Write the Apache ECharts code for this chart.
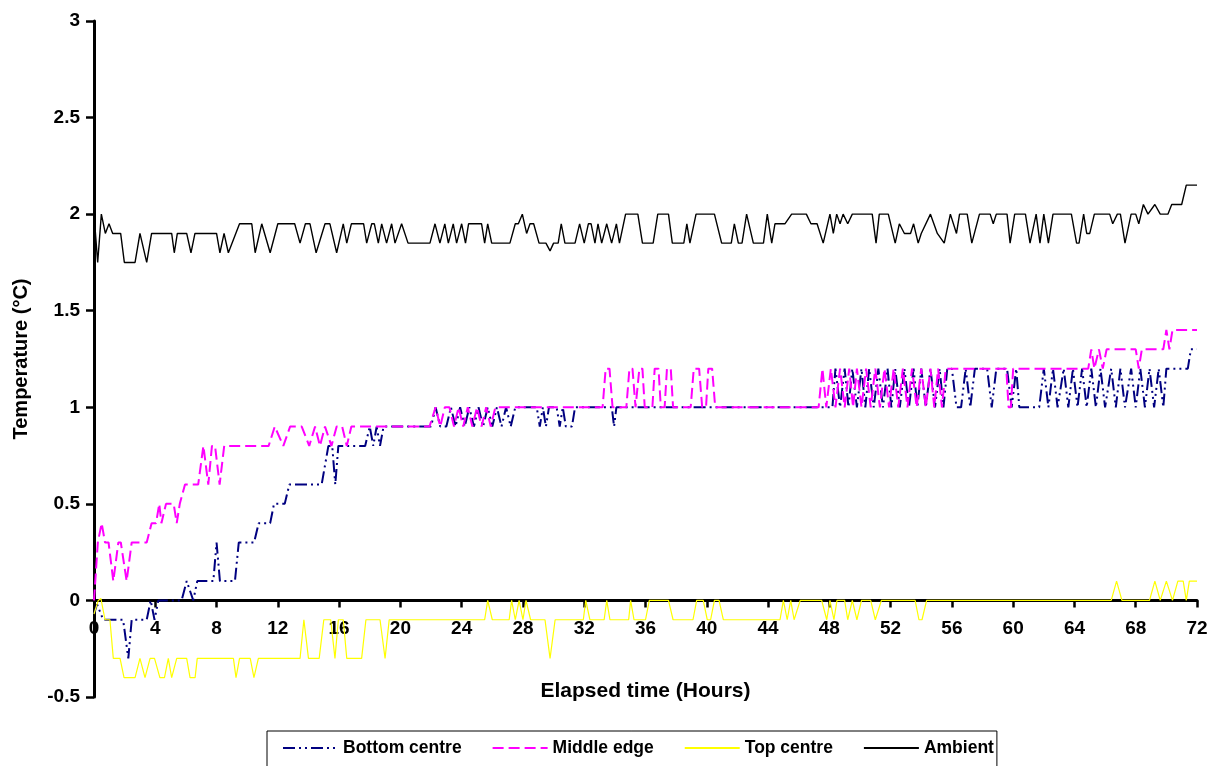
<!DOCTYPE html>
<html>
<head>
<meta charset="utf-8">
<script src="https://cdn.jsdelivr.net/npm/echarts@6/dist/echarts.min.js"></script>
<style>
html,body{margin:0;padding:0;background:#fff;}
#chart{width:1218px;height:766px;}
</style>
</head>
<body>
<div id="chart"></div>
<script>
// ---- tick labels ----
var xTicks = [0,4,8,12,16,20,24,28,32,36,40,44,48,52,56,60,64,68,72];
var yTicks = [-0.5,0,0.5,1,1.5,2,2.5,3];
var seriesNames = ['Bottom centre','Middle edge','Top centre','Ambient'];

// ---- series values: [elapsed hours, temperature] ----
var bottomCentre = [
[0,-0.07],[0.2,-0.02],[0.6,-0.1],[1.9,-0.1],[2.24,-0.3],[2.46,-0.1],[3.44,-0.1],[3.7,0],[3.95,-0.1],[4.2,0],
[5.72,0],[6.05,0.1],[6.48,0],[6.74,0.1],[7.79,0.1],[8.0,0.3],[8.22,0.1],[9.2,0.1],[9.45,0.3],[10.45,0.3],
[10.75,0.4],[11.5,0.4],[11.75,0.5],[12.45,0.5],[12.75,0.6],[14.86,0.6],[15.3,0.8],[15.55,0.8],[15.75,0.6],[15.95,0.8],
[17.7,0.8],[18.0,0.9],[18.23,0.8],[18.45,0.9],[18.67,0.8],[18.9,0.9],[22.0,0.9],[22.3,1.0],[22.6,0.9],[23.0,0.9],
[23.3,1.0],[23.6,0.9],[23.9,1.0],[24.2,0.9],[24.5,1.0],[24.8,0.9],[25.1,1.0],[25.4,0.9],[25.7,1.0],[26.0,0.9],
[26.3,1.0],[26.6,0.9],[26.9,1.0],[27.2,0.9],[27.5,1.0],[28.9,1.0],[29.1,0.9],[29.3,1.0],[29.5,0.9],[29.7,1.0],
[30.2,1.0],[30.4,0.9],[30.6,1.0],[30.8,0.9],[31.2,0.9],[31.4,1.0],[33.8,1.0],[33.95,0.9],[34.1,1.0],[48.2,1.0],
[48.4,1.2],[48.7,1.0],[49.0,1.2],[49.25,1.0],[49.5,1.2],[49.8,1.0],[50.1,1.2],[50.35,1.0],[50.6,1.2],[50.9,1.0],
[51.2,1.2],[51.5,1.0],[51.8,1.2],[52.05,1.0],[52.3,1.2],[52.6,1.0],[52.9,1.2],[53.2,1.0],[53.5,1.2],[53.75,1.0],
[54.0,1.2],[54.3,1.0],[54.6,1.2],[54.9,1.0],[55.2,1.2],[55.45,1.0],[55.7,1.2],[56.0,1.2],[56.3,1.0],[56.6,1.0],
[56.9,1.2],[57.2,1.0],[57.5,1.2],[58.3,1.2],[58.6,1.0],[58.9,1.2],[59.6,1.2],[59.9,1.0],[60.2,1.2],[60.4,1.0],
[61.7,1.0],[62.0,1.2],[62.3,1.0],[62.6,1.2],[62.9,1.0],[63.3,1.2],[63.6,1.0],[63.9,1.2],[64.2,1.0],[64.5,1.2],
[64.8,1.0],[65.1,1.2],[65.4,1.0],[65.7,1.2],[66.0,1.0],[66.4,1.2],[66.7,1.0],[67.0,1.2],[67.3,1.0],[67.7,1.2],
[68.0,1.0],[68.3,1.2],[68.6,1.0],[68.9,1.2],[69.2,1.0],[69.5,1.2],[69.8,1.0],[70.0,1.2],[71.4,1.2],[71.6,1.3],[72,1.3]
];

var middleEdge = [
[0,0],[0.25,0.3],[0.5,0.4],[0.72,0.3],[0.95,0.3],[1.26,0.1],[1.59,0.3],[1.75,0.3],[2.13,0.1],[2.46,0.3],
[3.44,0.3],[3.76,0.4],[4.05,0.4],[4.26,0.5],[4.4,0.4],[4.7,0.5],[5.2,0.5],[5.4,0.4],[5.6,0.5],[5.94,0.6],
[6.8,0.6],[7.14,0.8],[7.46,0.6],[7.7,0.8],[7.9,0.8],[8.2,0.6],[8.5,0.8],[11.4,0.8],[11.8,0.9],[12.36,0.8],
[12.8,0.9],[13.56,0.9],[14.05,0.8],[14.43,0.9],[14.75,0.8],[15.08,0.9],[15.5,0.8],[15.84,0.9],[16.2,0.9],[16.5,0.8],
[16.8,0.9],[21.9,0.9],[22.3,1.0],[22.6,0.9],[22.9,1.0],[23.2,1.0],[23.5,0.9],[23.8,1.0],[24.1,0.9],[24.4,1.0],
[24.7,0.9],[25.0,1.0],[25.3,0.9],[25.6,1.0],[25.9,0.9],[26.2,1.0],[33.2,1.0],[33.4,1.2],[33.65,1.2],[33.85,1.0],
[34.75,1.0],[34.95,1.2],[35.15,1.2],[35.35,1.0],[35.45,1.0],[35.6,1.2],[35.8,1.2],[35.95,1.0],[36.45,1.0],[36.6,1.2],
[36.85,1.2],[37.0,1.0],[37.25,1.0],[37.4,1.2],[37.65,1.2],[37.8,1.0],[38.95,1.0],[39.15,1.2],[39.5,1.2],[39.7,1.0],
[39.95,1.0],[40.1,1.2],[40.35,1.2],[40.55,1.0],[47.3,1.0],[47.55,1.2],[47.8,1.0],[48.1,1.2],[48.4,1.0],[48.7,1.2],
[49.0,1.0],[49.3,1.2],[49.55,1.0],[49.8,1.2],[50.1,1.0],[50.4,1.2],[50.7,1.0],[51.0,1.2],[51.3,1.0],[51.6,1.2],
[51.9,1.0],[52.2,1.2],[52.5,1.0],[52.8,1.2],[53.1,1.0],[53.4,1.2],[53.7,1.0],[54.0,1.2],[54.3,1.0],[54.6,1.2],
[54.85,1.0],[55.1,1.2],[55.35,1.0],[55.6,1.2],[59.55,1.2],[59.7,1.0],[59.85,1.0],[60.0,1.2],[64.9,1.2],[65.1,1.3],
[65.3,1.2],[65.6,1.3],[65.85,1.2],[66.1,1.3],[68.0,1.3],[68.2,1.2],[68.4,1.3],[69.8,1.3],[70.0,1.4],[70.2,1.3],
[70.4,1.4],[72,1.4]
];

var topCentre = [
[0,-0.07],[0.28,0],[0.45,0.01],[0.72,-0.1],[1.04,-0.1],[1.26,-0.3],[1.7,-0.3],[1.96,-0.4],[2.68,-0.4],[3.0,-0.3],
[3.33,-0.4],[3.66,-0.3],[3.95,-0.3],[4.3,-0.4],[4.6,-0.4],[4.85,-0.3],[5.07,-0.4],[5.4,-0.3],[6.05,-0.3],[6.27,-0.4],
[6.6,-0.4],[6.74,-0.3],[9.1,-0.3],[9.27,-0.4],[9.5,-0.3],[10.2,-0.3],[10.44,-0.4],[10.73,-0.3],[13.45,-0.3],[13.7,-0.1],
[14.0,-0.3],[14.7,-0.3],[15.0,-0.1],[15.45,-0.1],[15.73,-0.3],[15.95,-0.1],[16.27,-0.1],[16.5,-0.3],[17.47,-0.3],[17.75,-0.1],
[18.67,-0.1],[19.0,-0.3],[19.27,-0.1],[25.5,-0.1],[25.7,0],[26.0,-0.1],[27.1,-0.1],[27.26,0],[27.5,-0.1],[27.75,0],
[28.0,-0.1],[28.2,0],[28.5,-0.1],[29.44,-0.1],[29.77,-0.3],[30.1,-0.1],[31.94,-0.1],[32.1,0],[32.37,-0.1],[33.3,-0.1],
[33.47,0],[33.68,-0.1],[34.9,-0.1],[35.03,0],[35.25,-0.1],[36.0,-0.1],[36.25,0],[37.5,0],[37.8,-0.1],[39.1,-0.1],
[39.34,0],[39.77,0],[40.03,-0.1],[40.25,-0.1],[40.5,0],[40.8,0],[41.08,-0.1],[44.78,-0.1],[45.0,0],[45.25,-0.1],
[45.48,0],[45.7,-0.1],[46.1,0],[47.5,0],[47.83,-0.1],[48.04,0],[48.3,-0.1],[48.5,0],[49.0,0],[49.2,-0.1],
[49.5,0],[49.8,-0.1],[50.1,0],[50.7,0],[51.0,-0.1],[51.4,0],[53.6,0],[53.85,-0.1],[54.05,-0.1],[54.35,0],
[66.4,0],[66.75,0.1],[67.1,0],[68.9,0],[69.25,0.1],[69.6,0],[70.0,0.1],[70.4,0],[70.75,0.1],[71.1,0.1],
[71.3,0],[71.5,0.1],[72,0.1]
];

var ambient = [
[0,2.0],[0.24,1.75],[0.48,2.0],[0.74,1.9],[0.98,1.95],[1.22,1.9],[1.74,1.9],[1.98,1.75],[2.68,1.75],[3.0,1.9],
[3.44,1.75],[3.76,1.9],[5.07,1.9],[5.24,1.8],[5.44,1.9],[6.05,1.9],[6.33,1.8],[6.59,1.9],[8.0,1.9],[8.22,1.8],
[8.49,1.9],[8.77,1.8],[9.5,1.95],[10.3,1.95],[10.52,1.8],[10.95,1.95],[11.5,1.8],[12.0,1.95],[13.1,1.95],[13.45,1.85],
[13.8,1.95],[14.1,1.95],[14.5,1.8],[15.08,1.95],[15.4,1.95],[15.84,1.8],[16.27,1.95],[16.5,1.85],[16.8,1.95],[17.6,1.95],
[17.8,1.85],[18.13,1.95],[18.3,1.95],[18.56,1.85],[18.78,1.95],[19.1,1.85],[19.43,1.95],[19.65,1.85],[20.08,1.95],[20.5,1.85],
[21.93,1.85],[22.26,1.95],[22.58,1.85],[22.9,1.95],[23.13,1.85],[23.45,1.95],[23.67,1.85],[24.0,1.95],[24.25,1.85],[24.45,1.95],
[25.3,1.95],[25.5,1.85],[25.7,1.95],[25.96,1.85],[27.15,1.85],[27.5,1.95],[27.7,1.95],[27.96,2.0],[28.24,1.9],[28.46,1.95],
[28.7,1.95],[29.05,1.85],[29.5,1.85],[29.77,1.81],[30.0,1.85],[30.3,1.85],[30.5,1.95],[30.74,1.85],[31.4,1.85],[31.7,1.95],
[32.0,1.85],[32.27,1.95],[32.45,1.95],[32.7,1.85],[32.9,1.95],[33.14,1.85],[33.47,1.95],[33.79,1.85],[34.1,1.95],[34.3,1.85],
[34.7,2.0],[35.5,2.0],[35.8,1.85],[36.5,1.85],[36.8,2.0],[37.5,2.0],[37.75,1.85],[38.5,1.85],[38.7,1.95],[38.9,1.85],
[39.3,2.0],[40.5,2.0],[40.97,1.85],[41.6,1.85],[41.8,1.95],[42.06,1.85],[42.3,1.85],[42.6,2.0],[43.04,1.85],[43.7,1.85],
[43.95,2.0],[44.24,1.85],[44.45,1.95],[45.1,1.95],[45.54,2.0],[46.5,2.0],[46.8,1.95],[47.2,1.95],[47.6,1.85],[48.04,2.0],
[48.26,1.9],[48.48,2.0],[48.7,1.95],[48.9,2.0],[49.2,1.95],[49.5,2.0],[50.8,2.0],[51.05,1.85],[51.26,2.0],[51.85,2.0],
[52.3,1.85],[52.57,1.95],[52.9,1.9],[53.3,1.9],[53.5,1.95],[53.8,1.85],[54.0,1.9],[54.6,2.0],[55.05,1.9],[55.5,1.85],
[55.9,2.0],[56.3,1.9],[56.5,2.0],[57.0,2.0],[57.3,1.85],[57.8,2.0],[58.5,2.0],[58.7,1.95],[58.9,2.0],[59.6,2.0],
[59.8,1.85],[60.1,2.0],[60.8,2.0],[61.1,1.85],[61.5,2.0],[61.75,1.85],[62.0,2.0],[62.3,1.85],[62.6,2.0],[63.8,2.0],
[64.14,1.85],[64.3,1.85],[64.6,2.0],[64.8,1.9],[65.0,1.9],[65.3,2.0],[66.3,2.0],[66.5,1.95],[66.8,2.0],[67.0,2.0],
[67.3,1.85],[67.7,2.0],[68.0,2.0],[68.2,1.95],[68.5,2.05],[68.8,2.0],[69.25,2.05],[69.6,2.0],[70.1,2.0],[70.35,2.05],
[71.0,2.05],[71.3,2.15],[72,2.15]
];

var FONT = '"Liberation Sans", Arial, sans-serif';
var chart = echarts.init(document.getElementById('chart'), null, {renderer:'canvas', width:1218, height:766});

var lineDefs = [
  {name: seriesNames[0], data: bottomCentre, color:'#000080', width:2, type:[12,4,2,4,2,4]},
  {name: seriesNames[1], data: middleEdge, color:'#FF00FF', width:2, type:[11,5]},
  {name: seriesNames[2], data: topCentre, color:'#FFFF00', width:1.2, type:'solid'},
  {name: seriesNames[3], data: ambient, color:'#000000', width:1.4, type:'solid'}
];

// plot area
var G = {left:94, right:21, top:21, bottom:69};
var plotH = 766 - G.top - G.bottom;
var yMin = yTicks[0], yMax = yTicks[yTicks.length-1];
var zeroFromTop = plotH * (yMax - 0) / (yMax - yMin); // height down to the 0 level

var labelStyle = {fontFamily:FONT, fontWeight:'bold', fontSize:19, color:'#000'};

var option = {
  animation: false,
  backgroundColor: '#ffffff',
  grid: [
    {left:G.left, right:G.right, top:G.top, bottom:G.bottom, containLabel:false, outerBoundsMode:'none'},
    // helper grid whose bottom edge coincides with the 0 level, carrying the time axis
    {left:G.left, right:G.right, top:G.top, height:zeroFromTop, containLabel:false, outerBoundsMode:'none'}
  ],
  xAxis: [
    {
      gridIndex:0, type:'value', min:xTicks[0], max:xTicks[xTicks.length-1], interval:xTicks[1]-xTicks[0],
      show:false
    },
    {
      gridIndex:1, type:'value', min:xTicks[0], max:xTicks[xTicks.length-1], interval:xTicks[1]-xTicks[0],
      position:'bottom',
      name:'Elapsed time (Hours)', nameLocation:'middle', nameGap:80,
      nameTextStyle:{fontFamily:FONT, fontWeight:'bold', fontSize:21, color:'#000'},
      axisLine:{show:true, onZero:false, lineStyle:{color:'#000', width:3}},
      axisTick:{show:true, inside:false, length:7, lineStyle:{color:'#000', width:2.5}},
      axisLabel:Object.assign({margin:19, showMinLabel:true, showMaxLabel:true}, labelStyle),
      splitLine:{show:false}, z:1
    }
  ],
  yAxis: [
    {
      gridIndex:0, type:'value', min:yMin, max:yMax, interval:yTicks[1]-yTicks[0],
      name:'Temperature (\u00B0C)', nameLocation:'middle', nameGap:63, nameRotate:90,
      nameTextStyle:{fontFamily:FONT, fontWeight:'bold', fontSize:20, color:'#000'},
      axisLine:{show:true, onZero:false, lineStyle:{color:'#000', width:3}},
      axisTick:{show:true, inside:false, length:8, lineStyle:{color:'#000', width:2.5}},
      axisLabel:Object.assign({margin:14, showMinLabel:true, showMaxLabel:true}, labelStyle),
      splitLine:{show:false}
    },
    {
      gridIndex:1, type:'value', min:0, max:yMax, show:false
    }
  ],
  legend: {
    show:true, left:267, top:731, orient:'horizontal',
    itemWidth:55, itemHeight:14, itemGap:30,
    padding:[8,3,13,15],
    borderColor:'#000', borderWidth:1, backgroundColor:'#fff',
    textStyle:{fontFamily:FONT, fontWeight:'bold', fontSize:17.5, color:'#000'},
    itemStyle:{color:'rgba(0,0,0,0)', borderWidth:0, opacity:0},
    data: seriesNames
  },
  series: lineDefs.map(function(d){
    return {
      name:d.name, type:'line', xAxisIndex:0, yAxisIndex:0, data:d.data, showSymbol:false, symbol:'none',
      silent:true, clip:true,
      lineStyle:{color:d.color, width:d.width, type:d.type},
      itemStyle:{color:d.color},
      z:3
    };
  })
};
chart.setOption(option);
</script>
</body>
</html>
